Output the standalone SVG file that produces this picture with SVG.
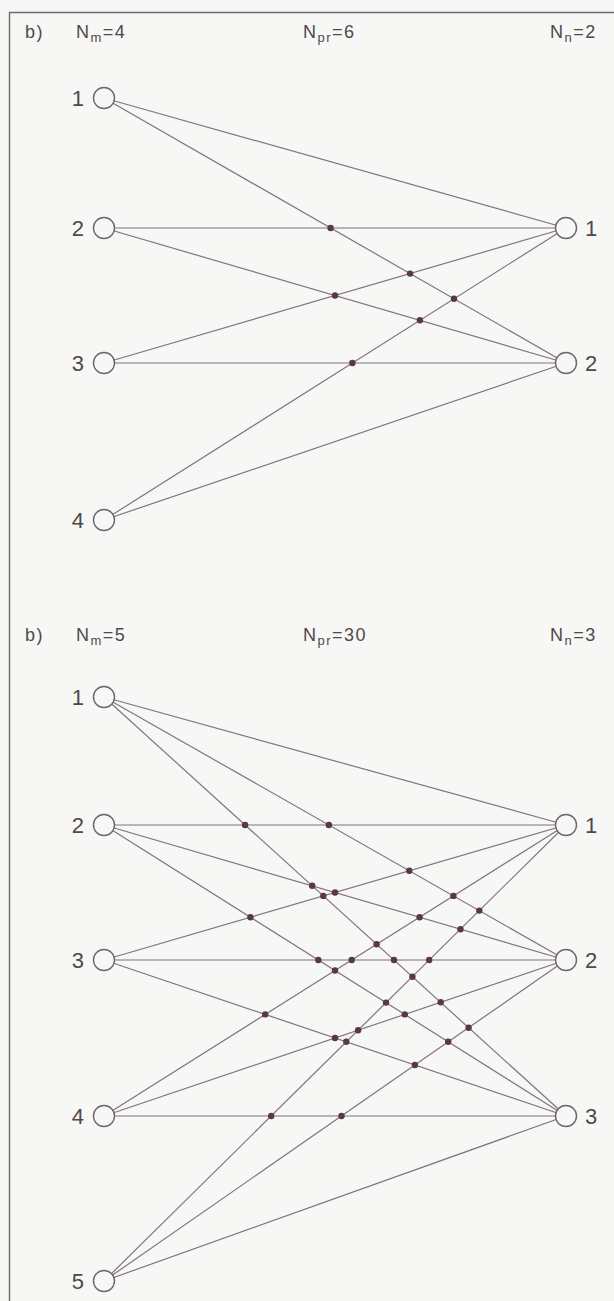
<svg xmlns="http://www.w3.org/2000/svg" width="614" height="1301" viewBox="0 0 614 1301">
<style>
.bg{fill:#f7f7f5}
.frame{stroke:#6b6b6b;stroke-width:1.4;fill:none}
.edge{stroke:#80757b;stroke-width:1.2;fill:none}
.dot{fill:#5a3842}
.node{fill:#f7f7f5;stroke:#6f666b;stroke-width:1.4}
.lbl{font-family:"Liberation Sans",Arial,sans-serif;font-size:22px;fill:#4f484c}
.hdr{font-family:"Liberation Sans",Arial,sans-serif;font-size:18px;fill:#4f484c;letter-spacing:1.5px}
.sub{font-size:13px}
</style>
<rect class="bg" x="0" y="0" width="614" height="1301"/>
<path class="frame" d="M9.5,1301 V12.5 H614"/>

<g id="headers">
<text class="hdr" x="25" y="38">b)</text>
<text class="hdr" x="76" y="38">N<tspan class="sub" dy="4">m</tspan><tspan dy="-4">=4</tspan></text>
<text class="hdr" x="303" y="38">N<tspan class="sub" dy="4">pr</tspan><tspan dy="-4">=6</tspan></text>
<text class="hdr" x="550" y="38">N<tspan class="sub" dy="4">n</tspan><tspan dy="-4">=2</tspan></text>
<text class="hdr" x="25" y="641">b)</text>
<text class="hdr" x="76" y="641">N<tspan class="sub" dy="4">m</tspan><tspan dy="-4">=5</tspan></text>
<text class="hdr" x="303" y="641">N<tspan class="sub" dy="4">pr</tspan><tspan dy="-4">=30</tspan></text>
<text class="hdr" x="550" y="641">N<tspan class="sub" dy="4">n</tspan><tspan dy="-4">=3</tspan></text>
</g>

<g id="connectors">
<g class="edge">
<line x1="104" y1="98" x2="566" y2="228"/>
<line x1="104" y1="98" x2="566" y2="363"/>
<line x1="104" y1="228" x2="566" y2="228"/>
<line x1="104" y1="228" x2="566" y2="363"/>
<line x1="104" y1="363" x2="566" y2="228"/>
<line x1="104" y1="363" x2="566" y2="363"/>
<line x1="104" y1="520" x2="566" y2="228"/>
<line x1="104" y1="520" x2="566" y2="363"/>

<line x1="104" y1="697" x2="566" y2="825"/>
<line x1="104" y1="697" x2="566" y2="960"/>
<line x1="104" y1="697" x2="566" y2="1116"/>
<line x1="104" y1="825" x2="566" y2="825"/>
<line x1="104" y1="825" x2="566" y2="960"/>
<line x1="104" y1="825" x2="566" y2="1116"/>
<line x1="104" y1="960" x2="566" y2="825"/>
<line x1="104" y1="960" x2="566" y2="960"/>
<line x1="104" y1="960" x2="566" y2="1116"/>
<line x1="104" y1="1116" x2="566" y2="825"/>
<line x1="104" y1="1116" x2="566" y2="960"/>
<line x1="104" y1="1116" x2="566" y2="1116"/>
<line x1="104" y1="1281" x2="566" y2="825"/>
<line x1="104" y1="1281" x2="566" y2="960"/>
<line x1="104" y1="1281" x2="566" y2="1116"/>
</g>
<g id="crossings-top" class="dot">
<circle cx="330.6" cy="228" r="3.2"/>
<circle cx="410.1" cy="273.6" r="3.2"/>
<circle cx="454.0" cy="298.8" r="3.2"/>
<circle cx="335.0" cy="295.5" r="3.2"/>
<circle cx="419.9" cy="320.3" r="3.2"/>
<circle cx="352.4" cy="363" r="3.2"/>
</g>
<g id="crossings-bottom" class="dot">
<circle cx="328.9" cy="825" r="3.2"/>
<circle cx="245.1" cy="825" r="3.2"/>
<circle cx="312.2" cy="885.8" r="3.2"/>
<circle cx="409.3" cy="870.8" r="3.2"/>
<circle cx="323.3" cy="895.9" r="3.2"/>
<circle cx="394.0" cy="960" r="3.2"/>
<circle cx="453.4" cy="895.9" r="3.2"/>
<circle cx="376.6" cy="944.3" r="3.2"/>
<circle cx="440.7" cy="1002.3" r="3.2"/>
<circle cx="479.3" cy="910.6" r="3.2"/>
<circle cx="412.4" cy="976.7" r="3.2"/>
<circle cx="468.6" cy="1027.7" r="3.2"/>
<circle cx="335.0" cy="892.5" r="3.2"/>
<circle cx="250.4" cy="917.2" r="3.2"/>
<circle cx="318.3" cy="960" r="3.2"/>
<circle cx="419.6" cy="917.2" r="3.2"/>
<circle cx="335.0" cy="970.5" r="3.2"/>
<circle cx="404.8" cy="1014.4" r="3.2"/>
<circle cx="460.5" cy="929.2" r="3.2"/>
<circle cx="386.0" cy="1002.6" r="3.2"/>
<circle cx="448.2" cy="1041.8" r="3.2"/>
<circle cx="351.7" cy="960" r="3.2"/>
<circle cx="265.2" cy="1014.4" r="3.2"/>
<circle cx="335.0" cy="1038" r="3.2"/>
<circle cx="429.2" cy="960" r="3.2"/>
<circle cx="346.3" cy="1041.8" r="3.2"/>
<circle cx="414.9" cy="1065" r="3.2"/>
<circle cx="358.1" cy="1030.2" r="3.2"/>
<circle cx="271.2" cy="1116" r="3.2"/>
<circle cx="341.5" cy="1116" r="3.2"/>
</g>
</g>

<g id="top-m1"><circle class="node" cx="104" cy="98" r="10.5"/><text class="lbl" x="84" y="106" text-anchor="end">1</text></g>
<g id="top-m2"><circle class="node" cx="104" cy="228" r="10.5"/><text class="lbl" x="84" y="236" text-anchor="end">2</text></g>
<g id="top-m3"><circle class="node" cx="104" cy="363" r="10.5"/><text class="lbl" x="84" y="371" text-anchor="end">3</text></g>
<g id="top-m4"><circle class="node" cx="104" cy="520" r="10.5"/><text class="lbl" x="84" y="528" text-anchor="end">4</text></g>
<g id="top-n1"><circle class="node" cx="566" cy="228" r="10.5"/><text class="lbl" x="585" y="236">1</text></g>
<g id="top-n2"><circle class="node" cx="566" cy="363" r="10.5"/><text class="lbl" x="585" y="371">2</text></g>

<g id="bot-m1"><circle class="node" cx="104" cy="697" r="10.5"/><text class="lbl" x="84" y="705" text-anchor="end">1</text></g>
<g id="bot-m2"><circle class="node" cx="104" cy="825" r="10.5"/><text class="lbl" x="84" y="833" text-anchor="end">2</text></g>
<g id="bot-m3"><circle class="node" cx="104" cy="960" r="10.5"/><text class="lbl" x="84" y="968" text-anchor="end">3</text></g>
<g id="bot-m4"><circle class="node" cx="104" cy="1116" r="10.5"/><text class="lbl" x="84" y="1124" text-anchor="end">4</text></g>
<g id="bot-m5"><circle class="node" cx="104" cy="1281" r="10.5"/><text class="lbl" x="84" y="1289" text-anchor="end">5</text></g>
<g id="bot-n1"><circle class="node" cx="566" cy="825" r="10.5"/><text class="lbl" x="585" y="833">1</text></g>
<g id="bot-n2"><circle class="node" cx="566" cy="960" r="10.5"/><text class="lbl" x="585" y="968">2</text></g>
<g id="bot-n3"><circle class="node" cx="566" cy="1116" r="10.5"/><text class="lbl" x="585" y="1124">3</text></g>
</svg>
